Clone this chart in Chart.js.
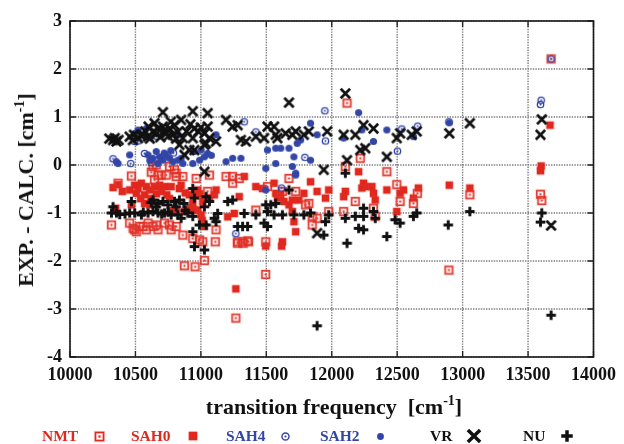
<!DOCTYPE html>
<html><head><meta charset="utf-8">
<script src="https://cdn.jsdelivr.net/npm/chart.js@4/dist/chart.umd.min.js"></script>
<style>
html,body{margin:0;padding:0;background:#fff;}
#wrap{position:relative;width:624px;height:444px;font-family:"Liberation Serif","Times New Roman",serif;font-weight:bold;overflow:hidden;}
#c{position:absolute;left:0;top:0;}
.ttl{position:absolute;white-space:nowrap;color:#111;font-size:22px;line-height:22px;}
.ttl sup{font-size:14px;line-height:0;position:relative;top:-1px;}
#xt{left:334px;top:396px;transform:translateX(-50%);}
#yt{left:26px;top:190px;transform:translate(-50%,-50%) rotate(-90deg);}
.lg{position:absolute;top:428px;font-size:15.5px;line-height:16px;}
.lm{position:absolute;}
</style>
</head><body>
<div id="wrap">
<canvas id="c" width="624" height="444"></canvas>
<div class="ttl" id="yt">EXP. - CALC. [cm<sup>-1</sup>]</div>
<div class="ttl" id="xt">transition frequency&nbsp;&nbsp;[cm<sup>-1</sup>]</div>
<div id="legend"></div>
</div>
<script>
// ---------- data ----------
const xTicks = [10000,10500,11000,11500,12000,12500,13000,13500,14000];
const yTicks = [3,2,1,0,-1,-2,-3,-4];
const seriesNames = ["NMT","SAH0","SAH4","SAH2","VR","NU"];

const nmtX = [10469,10367,10634,10659,10621,10672,10697,10735,10811,10811,10862,10646,10798,10760,10317,10456,10482,10507,10532,10558,10583,10596,10634,10659,10672,10722,10760,10773,10811,10862,10938,10494,10964,11065,11192,11243,11243,11293,11420,11509,11623,11673,11052,11116,11014,11281,11319,11357,11496,10989,12117,11724,11800,11825,11851,11888,11851,11977,12091,12104,12180,12218,12319,12332,12421,12497,12522,12624,12654,13055,13595,13605,13676,11027,10874,10956,11495,11267,12895,11110,11280,11323,11364];
const nmtY = [-0.23,-0.38,-0.03,0.00,-0.15,-0.21,-0.21,-0.21,-0.17,-0.24,-0.24,-0.31,-0.10,-0.03,-1.25,-1.21,-1.32,-1.39,-1.28,-1.28,-1.35,-1.21,-1.28,-1.25,-1.35,-1.21,-1.25,-1.35,-1.28,-1.46,-1.53,-1.35,-0.28,-0.21,-0.24,-0.24,-0.38,-0.28,-0.94,-0.45,-0.55,-0.28,-0.55,-1.35,-1.60,-1.60,-1.60,-1.58,-1.60,-1.56,1.29,-0.55,-0.83,-0.80,-1.07,-1.11,-1.25,-0.97,-0.97,-0.03,-0.76,0.14,-0.90,-1.07,-0.14,-0.41,-0.76,-0.80,-0.59,-0.62,-0.61,-0.74,2.21,-1.99,-2.10,-2.12,-2.28,-3.19,-2.19,-1.60,-1.63,-1.63,-1.60];

const sah0X = [10329,10367,10456,10494,10520,10545,10583,10507,10570,10608,10646,10684,10722,10773,10836,10849,10469,10570,10608,10900,10938,10950,10912,10950,10811,10874,11116,11103,11065,11014,10976,11331,11420,11471,11559,11572,11610,11635,11673,11699,11724,11255,11205,11002,11027,11585,11699,11711,11293,11623,10976,11838,11787,11888,11977,11952,12104,12091,12205,12243,12230,12256,12307,12319,12332,12421,12522,12548,12624,12662,12497,11749,12898,13055,13600,13595,13668,11267,11495,11617,10400,10620,10660,10700,10740,10760,10540,10880,10350,10780,11010,10990];
const sah0Y = [-0.47,-0.41,-0.52,-0.42,-0.49,-0.38,-0.45,-0.59,-0.62,-0.52,-0.45,-0.42,-0.45,-0.45,-0.49,-0.42,-0.83,-0.80,-0.83,-0.90,-0.80,-0.94,-0.62,-0.59,-0.94,-0.97,-0.52,-0.62,-0.69,-0.76,-0.94,-0.24,-0.45,-0.49,-0.38,-0.59,-0.62,-0.76,-0.83,-0.97,-1.39,-1.01,-1.08,-1.04,-1.28,-0.69,-0.73,-1.18,-0.66,-1.60,-0.52,-0.35,-0.59,-0.55,-0.52,-0.69,-0.55,-0.66,-0.14,-0.38,-0.48,-0.45,-0.45,-0.59,-0.73,-0.52,-0.59,-0.52,-0.69,-0.48,-0.97,-0.73,-0.42,-0.48,-0.02,-0.12,0.83,-2.58,-1.69,-1.69,-0.55,-0.70,-0.60,-0.55,-0.62,-0.70,-0.70,-0.58,-0.90,-0.95,-1.15,-0.60];

const sah4X = [10329,10464,10570,10494,11331,11420,11267,11947,11952,11795,11617,12535,12502,12657,12895,13600,13595,13676,10520,10660,10790,10700,10620];
const sah4Y = [0.13,0.03,0.24,0.49,0.90,0.69,-1.43,1.13,0.50,0.16,-0.48,0.75,0.29,0.81,0.90,1.35,1.26,2.21,0.50,0.60,0.25,0.15,0.05];

const sah2X = [10354,10367,10456,10596,10634,10659,10684,10710,10735,10760,10786,10824,10849,10862,10950,10938,10520,10583,10494,10824,10672,11052,11027,11002,11192,11243,11306,11116,11496,11572,11572,11610,11673,11711,11699,11724,11496,11509,11838,12205,12421,12319,12230,11838,11736,11724,11762,11888,12091,12624,12898,10720,10770,10610,10990,11080];
const sah2Y = [0.07,0.03,0.21,0.21,0.14,0.28,0.17,0.10,0.21,0.14,0.07,0.10,0.14,0.03,0.28,0.03,0.73,0.76,0.66,0.63,0.03,0.24,0.17,0.31,0.07,0.14,0.14,0.63,-0.07,0.03,0.35,0.35,0.35,0.17,-0.03,-0.17,-0.52,0.31,0.87,1.09,0.73,0.49,0.73,0.10,0.45,-0.21,0.52,0.63,0.56,0.59,0.88,0.25,0.30,0.10,0.10,0.20];

const vrX = [10329,10355,10342,10372,10456,10489,10520,10558,10596,10634,10646,10672,10710,10710,10735,10760,10798,10786,10824,10849,10862,10836,10874,10938,10950,10938,10912,10950,11027,11039,11052,11052,11027,11065,11116,11027,11192,11242,11281,11306,11344,11420,11483,11509,11559,11572,11585,11648,11673,11699,11724,11787,11825,11965,12104,12091,12180,12243,12319,12218,12256,12117,12421,12497,12522,12611,11939,11888,12649,12898,13055,13605,13595,13676,10480,10540,10575,10610,10660,10690,10720,10750,10770,10810,10890,10920,10980,11000,10300,10600];
const vrY = [0.52,0.49,0.56,0.52,0.59,0.63,0.56,0.63,0.59,0.69,0.87,0.76,0.80,1.10,0.66,0.76,0.83,0.63,0.69,0.94,0.56,0.42,0.21,1.12,0.76,0.56,0.31,0.31,-0.14,0.45,1.08,0.80,0.66,0.56,0.49,0.42,0.94,0.80,0.83,0.52,0.49,0.59,0.56,0.80,0.80,0.63,0.56,0.66,1.30,0.63,0.70,0.63,0.70,0.70,1.49,0.63,0.63,0.83,0.76,0.31,0.35,0.10,0.17,0.56,0.66,0.63,-0.10,-1.42,0.70,0.66,0.87,0.95,0.63,-1.26,0.52,0.62,0.70,0.55,0.65,0.58,0.72,0.60,0.90,0.55,0.70,0.85,0.70,0.78,0.55,0.80];

const nuX = [10329,10355,10317,10380,10469,10456,10494,10545,10596,10634,10672,10722,10773,10824,10634,10672,10710,10748,10798,10836,10659,10811,10849,10938,10950,10938,10938,11040,11065,11027,10989,11103,11116,11128,11205,11243,11331,11281,11319,11357,11420,11496,11509,11534,11559,11572,11623,11673,11711,11509,11483,11040,12104,11787,11838,11977,11952,12104,12180,12243,12243,12319,12332,12205,12243,12117,12421,12484,12522,12624,11939,12649,12890,13055,13605,13595,13676,10951,11027,11888,10700,10750,10900,10870,10620,10560,10420,10880];
const nuY = [-0.87,-1.00,-1.00,-1.03,-0.76,-1.00,-1.00,-1.04,-1.00,-0.97,-1.00,-1.00,-1.04,-1.04,-0.73,-0.80,-0.76,-0.83,-0.76,-0.73,-0.87,-0.87,-1.11,-0.49,-0.69,-1.07,-1.39,-0.66,-0.76,-0.87,-1.25,-1.11,-1.18,-1.01,-0.76,-0.73,-1.01,-1.28,-1.28,-1.28,-1.04,-0.83,-0.97,-0.83,-1.04,-0.80,-1.04,-0.52,-1.04,-1.28,-1.21,-1.25,-0.17,-1.04,-1.00,-1.04,-1.18,-1.11,-1.07,-0.90,-1.07,-0.97,-1.11,-1.32,-1.35,-1.63,-1.49,-1.14,-1.21,-1.07,-1.46,-1.00,-1.25,-0.97,-1.00,-1.19,-3.13,-1.70,-1.77,-3.35,-1.02,-0.98,-1.00,-0.80,-0.78,-0.98,-1.02,-0.95];

// ---------- marker drawing ----------
const RED = "#e0281e", BLUE = "#3346a8", BLACK = "#111";
function drawMarker(g, type, cx, cy, k){
  g.save();
  if(type==="NMT"){
    const h=3.7*k;
    g.strokeStyle="rgba(232,90,80,0.35)"; g.lineWidth=2.8*k; g.strokeRect(cx-h,cy-h,2*h,2*h);
    g.strokeStyle=RED; g.lineWidth=1.3*k; g.strokeRect(cx-h,cy-h,2*h,2*h);
    g.fillStyle=RED; g.fillRect(cx-1*k,cy-1*k,2*k,2*k);
  } else if(type==="SAH0"){
    const h=3.8*k; g.fillStyle=RED; g.fillRect(cx-h,cy-h,2*h,2*h);
  } else if(type==="SAH4"){
    g.strokeStyle=BLUE; g.lineWidth=1.3*k; g.beginPath(); g.arc(cx,cy,3.2*k,0,Math.PI*2); g.stroke();
    g.fillStyle=BLUE; g.beginPath(); g.arc(cx,cy,1.0*k,0,Math.PI*2); g.fill();
  } else if(type==="SAH2"){
    g.fillStyle=BLUE; g.beginPath(); g.arc(cx,cy,3.6*k,0,Math.PI*2); g.fill();
  } else if(type==="VR"){
    const h=4.7*k; g.strokeStyle=BLACK; g.lineWidth=2.7*k; g.beginPath();
    g.moveTo(cx-h,cy-h); g.lineTo(cx+h,cy+h); g.moveTo(cx+h,cy-h); g.lineTo(cx-h,cy+h); g.stroke();
  } else if(type==="NU"){
    const h=4.8*k; g.strokeStyle=BLACK; g.lineWidth=2.9*k; g.beginPath();
    g.moveTo(cx-h,cy); g.lineTo(cx+h,cy); g.moveTo(cx,cy-h); g.lineTo(cx,cy+h); g.stroke();
  }
  g.restore();
}
function markerImage(type,k){
  const n=Math.ceil(15*k); const c=document.createElement('canvas'); c.width=n; c.height=n;
  drawMarker(c.getContext('2d'),type,n/2,n/2,k); return c;
}

// ---------- legend (HTML text + small marker canvases) ----------
const legendPos = {NMT:[42,99],SAH0:[131,193],SAH4:[226,285],SAH2:[320,380],VR:[430,474],NU:[523,567]};
const legendCol = {NMT:RED,SAH0:RED,SAH4:BLUE,SAH2:BLUE,VR:BLACK,NU:BLACK};
const legendK = {NMT:1.1,SAH0:1.15,SAH4:1.1,SAH2:0.95,VR:1.3,NU:1.2};
const lg=document.getElementById('legend');
seriesNames.forEach(n=>{
  const t=document.createElement('div'); t.className='lg'; t.textContent=n; t.style.left=legendPos[n][0]+'px'; t.style.color=legendCol[n]; lg.appendChild(t);
  const c=markerImage(n,legendK[n]); c.className='lm'; c.style.left=(legendPos[n][1]-c.width/2)+'px'; c.style.top=(436-c.height/2)+'px'; lg.appendChild(c);
});

// ---------- chart ----------
const pairs=(xs,ys)=>xs.map((x,i)=>({x:x,y:ys[i]}));
const sets=[
  {label:"NMT",data:pairs(nmtX,nmtY),order:5},
  {label:"SAH0",data:pairs(sah0X,sah0Y),order:6},
  {label:"SAH4",data:pairs(sah4X,sah4Y),order:3},
  {label:"SAH2",data:pairs(sah2X,sah2Y),order:4},
  {label:"VR",data:pairs(vrX,vrY),order:1},
  {label:"NU",data:pairs(nuX,nuY),order:2}
].map(d=>Object.assign(d,{pointStyle:markerImage(d.label,1),pointRadius:4,showLine:false}));

const tickFont={family:"'Liberation Serif','Times New Roman',serif",size:18,weight:'bold'};
// dotted grid at the scales' tick positions, then frame with inward tick marks
const gridFrame={id:'gridFrame',
  beforeDatasetsDraw(ch){
    const {ctx,chartArea:a}=ch; const sx=ch.scales.x, sy=ch.scales.y;
    ctx.save();
    ctx.strokeStyle='#7d7d7d'; ctx.lineWidth=1.4; ctx.setLineDash([1.4,1.2]);
    ctx.beginPath();
    xTicks.forEach(v=>{const p=sx.getPixelForValue(v); ctx.moveTo(p,a.top); ctx.lineTo(p,a.bottom);});
    yTicks.forEach(v=>{const p=sy.getPixelForValue(v); ctx.moveTo(a.left,p); ctx.lineTo(a.right,p);});
    ctx.stroke();
    ctx.restore();
  },
  afterDraw(ch){
    const {ctx,chartArea:a}=ch; const sx=ch.scales.x, sy=ch.scales.y;
    ctx.save(); ctx.setLineDash([]);
    ctx.strokeStyle='#222'; ctx.lineWidth=1.3; ctx.beginPath();
    xTicks.forEach(v=>{const p=sx.getPixelForValue(v); ctx.moveTo(p,a.bottom); ctx.lineTo(p,a.bottom-6); ctx.moveTo(p,a.top); ctx.lineTo(p,a.top+6);});
    yTicks.forEach(v=>{const p=sy.getPixelForValue(v); ctx.moveTo(a.left,p); ctx.lineTo(a.left+6,p); ctx.moveTo(a.right,p); ctx.lineTo(a.right-6,p);});
    ctx.stroke();
    ctx.strokeStyle='#1a1a1a'; ctx.lineWidth=1.6; ctx.strokeRect(a.left,a.top,a.width,a.height);
    ctx.restore();
  }};

new Chart(document.getElementById('c'),{
  type:'scatter',
  data:{datasets:sets},
  options:{
    responsive:false,animation:false,devicePixelRatio:1,
    layout:{padding:{left:0,right:28,top:21,bottom:0}},
    plugins:{legend:{display:false},tooltip:{enabled:false}},
    scales:{
      x:{type:'linear',min:10000,max:14000,
         afterBuildTicks:s=>{s.ticks=xTicks.map(v=>({value:v}));},
         ticks:{color:'#111',font:tickFont,padding:8,maxRotation:0,autoSkip:false,callback:v=>String(v)},
         grid:{display:false,drawTicks:false},
         border:{display:false},
         afterFit:s=>{s.height=87;}},
      y:{type:'linear',min:-4,max:3,
         afterBuildTicks:s=>{s.ticks=yTicks.map(v=>({value:v}));},
         ticks:{color:'#111',font:tickFont,padding:8,callback:v=>String(v)},
         grid:{display:false,drawTicks:false},
         border:{display:false},
         afterFit:s=>{s.width=70;}}
    }
  },
  plugins:[gridFrame]
});
</script>
</body></html>
